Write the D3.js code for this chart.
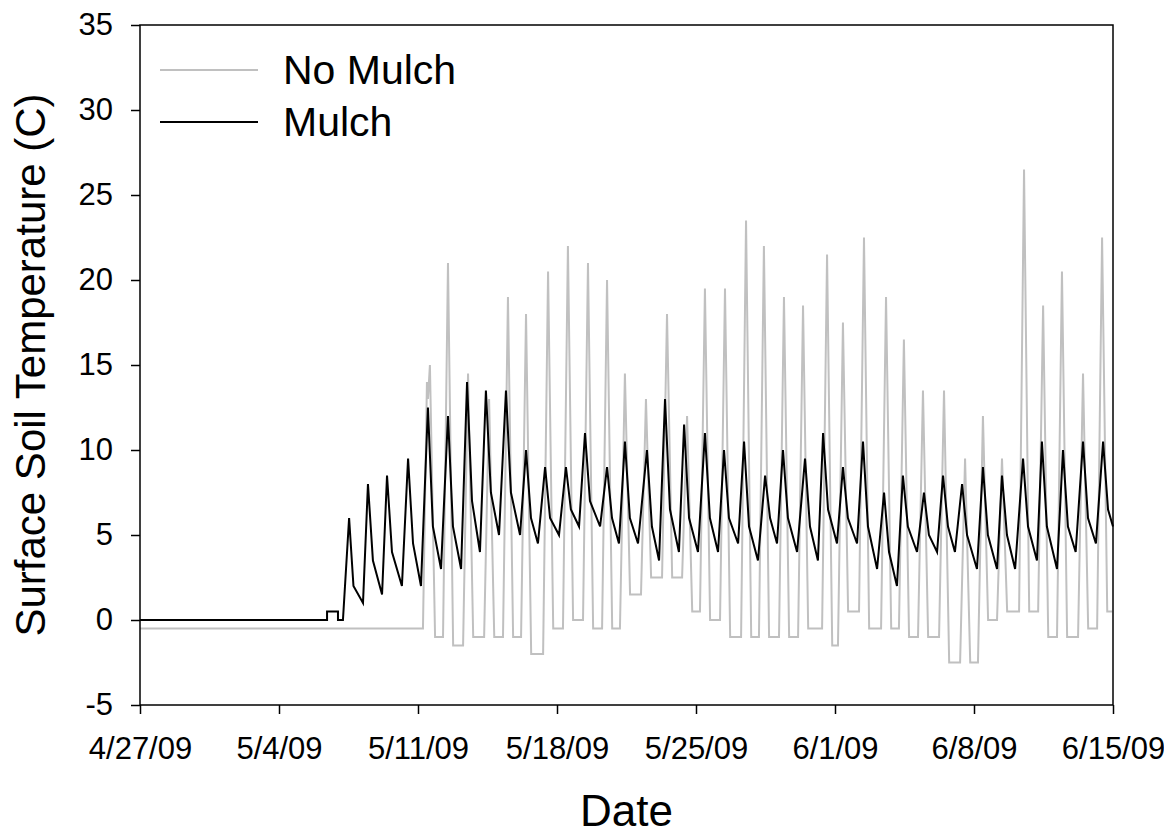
<!DOCTYPE html>
<meta charset="utf-8">
<style>
    body { margin: 0; background: #fff; }
    text { font-family: Arial, "Liberation Sans", sans-serif; fill: #000; }
</style>
<body>
<svg width="1164" height="837"></svg>
<script src="https://d3js.org/d3.v7.min.js"></script>
<script>
// days since 4/27/09 and temperature (C), turning points
var mulchDays = [0, 9.42, 9.42, 9.97, 9.97, 10.22,
    10.53, 10.75, 11.23, 11.48, 11.73, 12.19, 12.44, 12.69, 13.19, 13.50, 13.75, 14.15,
    14.50, 14.75, 15.16, 15.51, 15.76, 16.17, 16.47, 16.72, 17.12, 17.42, 17.67, 18.08,
    18.43, 18.68, 19.14, 19.44, 19.69, 20.04, 20.40, 20.65, 21.10, 21.45, 21.70, 22.11,
    22.41, 22.66, 23.17, 23.52, 23.77, 24.12, 24.42, 24.67, 25.08, 25.53, 25.78, 26.14,
    26.44, 26.69, 27.14, 27.40, 27.65, 28.10, 28.45, 28.70, 29.11, 29.41, 29.66, 30.12,
    30.42, 30.67, 31.12, 31.48, 31.73, 32.08, 32.38, 32.63, 33.09, 33.49, 33.74, 34.14,
    34.40, 34.65, 35.10, 35.40, 35.65, 36.11, 36.41, 36.66, 37.12, 37.47, 37.72, 38.12,
    38.42, 38.67, 39.13, 39.48, 39.73, 40.14, 40.44, 40.69, 41.04, 41.40, 41.65, 42.15,
    42.45, 42.70, 43.16, 43.41, 43.66, 44.07, 44.47, 44.72, 45.17, 45.42, 45.67, 46.18,
    46.48, 46.73, 47.12, 47.49, 47.74, 48.14, 48.50, 48.75, 49.00];
var mulchTemps = [0, 0, 0.5, 0.5, 0, 0,
    6, 2, 1, 8, 3.5, 1.5, 8.5, 4, 2, 9.5, 4.5, 2,
    12.5, 5.5, 3, 12, 5.5, 3, 14, 7, 4, 13.5, 7.5, 5,
    13.5, 7.5, 5, 10, 6, 4.5, 9, 6, 5, 9, 6.5, 5.5,
    11, 7, 5.5, 9, 6, 4.5, 10.5, 6, 4.5, 10, 5.5, 3.5,
    13, 6.5, 4, 11.5, 6, 4, 11, 6, 4, 10, 6, 4.5,
    10.5, 5.5, 3.5, 8.5, 6, 4.5, 10, 6, 4, 9.5, 5.5, 3.5,
    11, 6.5, 4.5, 9, 6, 4.5, 10.5, 5.5, 3, 7.5, 4, 2,
    8.5, 5.5, 4, 7.5, 5, 4, 8.5, 5.5, 4, 8, 5, 3,
    9, 5, 3, 8.5, 5, 3, 9.5, 5.5, 3.5, 10.5, 5.5, 3,
    10, 5.5, 4, 10.5, 6, 4.5, 10.5, 6.5, 5.5];

var noMulchDays = [0, 14.25, 14.45, 14.50, 14.60, 14.86,
    15.26, 15.51, 15.77, 16.27, 16.52, 16.78, 17.33, 17.58, 17.84, 18.28, 18.53, 18.79,
    19.19, 19.44, 19.70, 20.30, 20.55, 20.81, 21.30, 21.55, 21.81, 22.31, 22.56, 22.82,
    23.27, 23.52, 23.78, 24.17, 24.42, 24.68, 25.23, 25.48, 25.74, 26.29, 26.54, 26.80,
    27.30, 27.55, 27.81, 28.20, 28.45, 28.71, 29.21, 29.46, 29.72, 30.27, 30.52, 30.78,
    31.17, 31.42, 31.68, 32.18, 32.43, 32.69, 33.14, 33.39, 33.65, 34.35, 34.60, 34.86,
    35.15, 35.40, 35.66, 36.21, 36.46, 36.72, 37.32, 37.57, 37.83, 38.22, 38.47, 38.73,
    39.18, 39.43, 39.69, 40.24, 40.49, 40.75, 41.30, 41.55, 41.81, 42.20, 42.45, 42.71,
    43.16, 43.41, 43.67, 44.27, 44.52, 44.78, 45.23, 45.48, 45.74, 46.18, 46.43, 46.69,
    47.24, 47.49, 47.75, 48.20, 48.45, 48.71, 48.96];
var noMulchTemps = [-0.5, -0.5, 14, 13, 15, -1,
    -1, 21, -1.5, -1.5, 14.5, -1, -1, 13, -1, -1, 19, -1,
    -1, 18, -2, -2, 20.5, -0.5, -0.5, 22, 0, 0, 21, -0.5,
    -0.5, 20, -0.5, -0.5, 14.5, 1.5, 1.5, 13, 2.5, 2.5, 18, 2.5,
    2.5, 12, 0.5, 0.5, 19.5, 0, 0, 19.5, -1, -1, 23.5, -1,
    -1, 22, -1, -1, 19, -1, -1, 18.5, -0.5, -0.5, 21.5, -1.5,
    -1.5, 17.5, 0.5, 0.5, 22.5, -0.5, -0.5, 19, -0.5, -0.5, 16.5, -1,
    -1, 13.5, -1, -1, 13.5, -2.5, -2.5, 9.5, -2.5, -2.5, 12, 0,
    0, 9.5, 0.5, 0.5, 26.5, 0.5, 0.5, 18.5, -1, -1, 20.5, -1,
    -1, 14.5, -0.5, -0.5, 22.5, 0.5, 0.5];

var yTicks = [-5, 0, 5, 10, 15, 20, 25, 30, 35];
var dateTicks = ["4/27/09", "5/4/09", "5/11/09", "5/18/09", "5/25/09", "6/1/09", "6/8/09", "6/15/09"];
var seriesNames = ["No Mulch", "Mulch"];
var seriesColors = ["#c0c0c0", "#000000"];

var start = Date.UTC(2009, 3, 27);
function toDate(d) { return new Date(start + d * 864e5); }
var parseTick = d3.utcParse("%m/%d/%y");

var svg = d3.select("svg"),
    plotLeft = 140, plotRight = 1113, plotTop = 25, plotBottom = 705;

var x = d3.scaleUtc()
    .domain([toDate(0), toDate(49)])
    .range([plotLeft, plotRight]);
var y = d3.scaleLinear()
    .domain([-5, 35])
    .range([plotBottom, plotTop]);

var line = d3.line()
    .x(function(d) { return x(toDate(d[0])); })
    .y(function(d) { return y(d[1]); });

var series = [
    d3.zip(noMulchDays, noMulchTemps),
    d3.zip(mulchDays, mulchTemps)
];

svg.selectAll(".series")
    .data(series)
    .enter().append("path")
    .attr("class", "series")
    .attr("fill", "none")
    .attr("stroke", function(d, i) { return seriesColors[i]; })
    .attr("stroke-width", 2)
    .attr("d", line);

// frame
svg.append("rect")
    .attr("x", plotLeft).attr("y", plotTop)
    .attr("width", plotRight - plotLeft).attr("height", plotBottom - plotTop)
    .attr("fill", "none").attr("stroke", "#000").attr("stroke-width", 1.5);

var xAxis = svg.append("g")
    .attr("transform", "translate(0," + plotBottom + ")")
    .call(d3.axisBottom(x)
        .tickValues(dateTicks.map(function(s) { return parseTick(s); }))
        .tickFormat(function(d, i) { return dateTicks[i]; })
        .tickSize(9).tickSizeOuter(0).tickPadding(23));
xAxis.select(".domain").remove();
xAxis.selectAll("line").attr("stroke-width", 1.5);
xAxis.selectAll("text").style("font-size", "31px").style("font-family", "Arial, 'Liberation Sans', sans-serif");

var yAxis = svg.append("g")
    .attr("transform", "translate(" + plotLeft + ",0)")
    .call(d3.axisLeft(y).tickValues(yTicks)
        .tickFormat(function(d) { return String(d); })
        .tickSize(9).tickSizeOuter(0).tickPadding(18));
yAxis.select(".domain").remove();
yAxis.selectAll("line").attr("stroke-width", 1.5);
yAxis.selectAll("text").style("font-size", "31px").style("font-family", "Arial, 'Liberation Sans', sans-serif");

svg.append("text")
    .attr("x", (plotLeft + plotRight) / 2)
    .attr("y", 826)
    .attr("text-anchor", "middle")
    .style("font-size", "44px")
    .text("Date");

svg.append("text")
    .attr("transform", "translate(45," + (plotTop + plotBottom) / 2 + ")rotate(-90)")
    .attr("text-anchor", "middle")
    .style("font-size", "42px")
    .text("Surface Soil Temperature (C)");

// legend
var legend = svg.selectAll(".legend")
    .data(seriesNames)
    .enter().append("g")
    .attr("class", "legend")
    .attr("transform", function(d, i) { return "translate(160," + (70 + i * 52) + ")"; });
legend.append("line")
    .attr("x1", 0).attr("x2", 98)
    .attr("stroke", function(d, i) { return seriesColors[i]; })
    .attr("stroke-width", 2);
legend.append("text")
    .attr("x", 123)
    .attr("y", 14)
    .style("font-size", "41px")
    .text(function(d) { return d; });
</script>
</body>
